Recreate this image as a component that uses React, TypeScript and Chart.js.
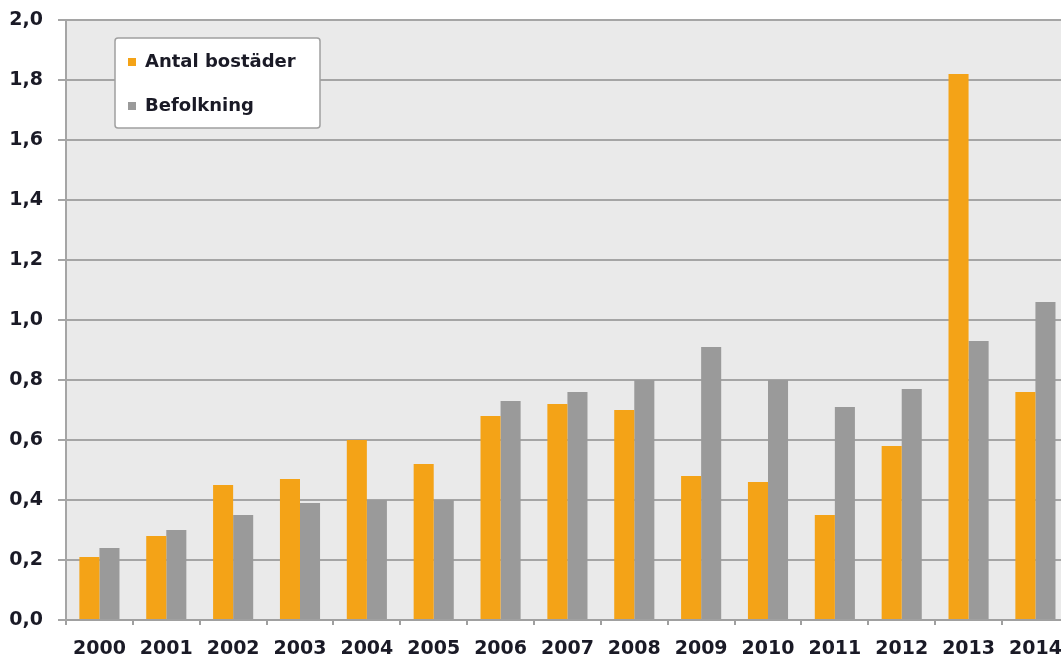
import React, { useEffect, useRef } from "react";
import { Chart, registerables } from "chart.js";

Chart.register(...registerables);

const years = ["2000", "2001", "2002", "2003", "2004", "2005", "2006", "2007", "2008", "2009", "2010", "2011", "2012", "2013", "2014"];
const antalBostader = [0.21, 0.28, 0.45, 0.47, 0.60, 0.52, 0.68, 0.72, 0.70, 0.48, 0.46, 0.35, 0.58, 1.82, 0.76];
const befolkning = [0.24, 0.30, 0.35, 0.39, 0.40, 0.40, 0.73, 0.76, 0.80, 0.91, 0.80, 0.71, 0.77, 0.93, 1.06];
const seriesLabels = ["Antal bostäder", "Befolkning"];

const ORANGE = "#f4a317";
const GRAY = "#9a9a9a";
const TEXT = "#1a1a26";
const FONT = "'DejaVu Sans', Verdana, sans-serif";

const bgPlugin = {
  id: "plotBg",
  beforeDraw(chart: any) {
    const { ctx, chartArea } = chart;
    ctx.save();
    ctx.fillStyle = "#eaeaea";
    ctx.fillRect(chartArea.left, chartArea.top, chartArea.right - chartArea.left, chartArea.bottom - chartArea.top);
    ctx.restore();
  },
};

const legendPlugin = {
  id: "innerLegend",
  afterDraw(chart: any) {
    const { ctx, chartArea } = chart;
    const x = chartArea.left + 49;
    const y = chartArea.top + 18;
    const w = 205;
    const h = 90;
    ctx.save();
    ctx.fillStyle = "#ffffff";
    ctx.strokeStyle = "#a0a0a0";
    ctx.lineWidth = 1.5;
    ctx.beginPath();
    (ctx as any).roundRect(x, y, w, h, 3);
    ctx.fill();
    ctx.stroke();
    ctx.font = `bold 18px ${FONT}`;
    ctx.textBaseline = "middle";
    ctx.textAlign = "left";
    chart.data.datasets.forEach((ds: any, i: number) => {
      const cy = y + 24 + i * 44;
      ctx.fillStyle = ds.backgroundColor;
      ctx.fillRect(x + 13, cy - 4, 8, 8);
      ctx.fillStyle = TEXT;
      ctx.fillText(ds.label, x + 30, cy);
    });
    ctx.restore();
  },
};

export default function App() {
  const ref = useRef<HTMLCanvasElement>(null);
  useEffect(() => {
    const chart = new Chart(ref.current!, {
      type: "bar",
      data: {
        labels: years,
        datasets: [
          { label: seriesLabels[0], data: antalBostader, backgroundColor: ORANGE, borderWidth: 0 },
          { label: seriesLabels[1], data: befolkning, backgroundColor: GRAY, borderWidth: 0 },
        ],
      },
      plugins: [bgPlugin, legendPlugin],
      options: {
        responsive: false,
        animation: false,
        layout: { padding: { top: 20, right: 4, left: 0, bottom: 0 } },
        plugins: { legend: { display: false }, tooltip: { enabled: false } },
        datasets: { bar: { categoryPercentage: 0.6, barPercentage: 1.0 } },
        scales: {
          x: {
            offset: true,
            grid: { display: true, drawOnChartArea: false, drawTicks: true, tickLength: 5, color: "#a0a0a0", lineWidth: 2, offset: true },
            border: { display: true, color: "#a0a0a0", width: 2 },
            ticks: { color: TEXT, font: { family: FONT, size: 19, weight: "bold" }, padding: 13, maxRotation: 0, autoSkip: false },
            afterFit(scale: any) { scale.height = 37; },
          },
          y: {
            min: 0,
            max: 2,
            ticks: {
              stepSize: 0.2,
              color: TEXT,
              font: { family: FONT, size: 19, weight: "bold", lineHeight: 0.5 },
              padding: 15,
              callback: (v: any) => Number(v).toFixed(1).replace(".", ","),
            },
            grid: { color: "#a5a5a5", lineWidth: 2, tickLength: 8, drawTicks: true },
            border: { display: true, color: "#a5a5a5", width: 2 },
            afterFit(scale: any) { scale.width = 66; },
          },
        },
      },
    });
    return () => chart.destroy();
  }, []);
  return (
    <div style={{ position: "fixed", left: 0, top: 0, width: 1061, height: 657, overflow: "hidden", background: "#fff" }}>
      <canvas ref={ref} width={1075} height={657} style={{ display: "block" }} />
    </div>
  );
}
